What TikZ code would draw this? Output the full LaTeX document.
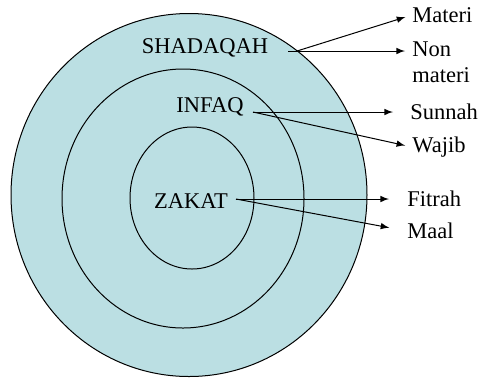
\documentclass[tikz,border=0pt]{standalone}
\usepackage{fontspec}
\setmainfont{Liberation Serif}
\usepackage{tikz}

\definecolor{ringblue}{RGB}{187,223,227}
\tikzset{
  ring/.style={draw=black,fill=ringblue,line width=0.5pt},
  word/.style={inner sep=0pt,font=\fontsize{11.25}{13}\selectfont},
  link/.style={-latex,line width=0.5pt,shorten >=3.5pt},
}

\begin{document}
\begin{tikzpicture}[x=0.5pt,y=-0.5pt]
        \useasboundingbox (0,0) rectangle (482,377);

        % The three rings
        \draw[ring] (189,195) ellipse (178 and 181.5);
        \draw[ring] (183,198.5) ellipse (121 and 129.5);
        \draw[ring] (192,198) ellipse (62 and 71);

        % Names in the rings
        \node[word] (shadaqah) at (205,48) {SHADAQAH};
        \node[word] (infaq) at (210,107) {INFAQ};
        \node[word] (zakat) at (191,201) {ZAKAT};

        % Where the lines leave
        \coordinate (shadaqah-out) at (288,51);
        \coordinate (shadaqah-up) at (297,51);
        \coordinate (infaq-out) at (253,112);
        \coordinate (zakat-out) at (236,199);

        % Kinds on the right
        \node[word,anchor=west] (materi) at (412,15) {Materi};
        \node[word,anchor=north west,align=left] (nonmateri) at (412,41) {Non\\materi};
        \node[word,anchor=west] (sunnah) at (410,112) {Sunnah};
        \node[word,anchor=west] (wajib) at (412,147) {Wajib};
        \node[word,anchor=west] (fitrah) at (407,199) {Fitrah};
        \node[word,anchor=west] (maal) at (407,231) {Maal};

        % Connectors
        \draw[link] (shadaqah-up) -- (materi.west);
        \draw[link] (shadaqah-out) -- ([yshift=-5pt]nonmateri.north west);
        \draw[link,shorten >=8.5pt] (infaq-out) -- (sunnah.west);
        \draw[link] (infaq-out) -- (wajib.west);
        \draw[link,shorten >=9pt] (zakat-out) -- (fitrah.west);
        \draw[link,shorten >=9pt] (zakat-out) -- (maal.west);
    \end{tikzpicture}
\end{document}
